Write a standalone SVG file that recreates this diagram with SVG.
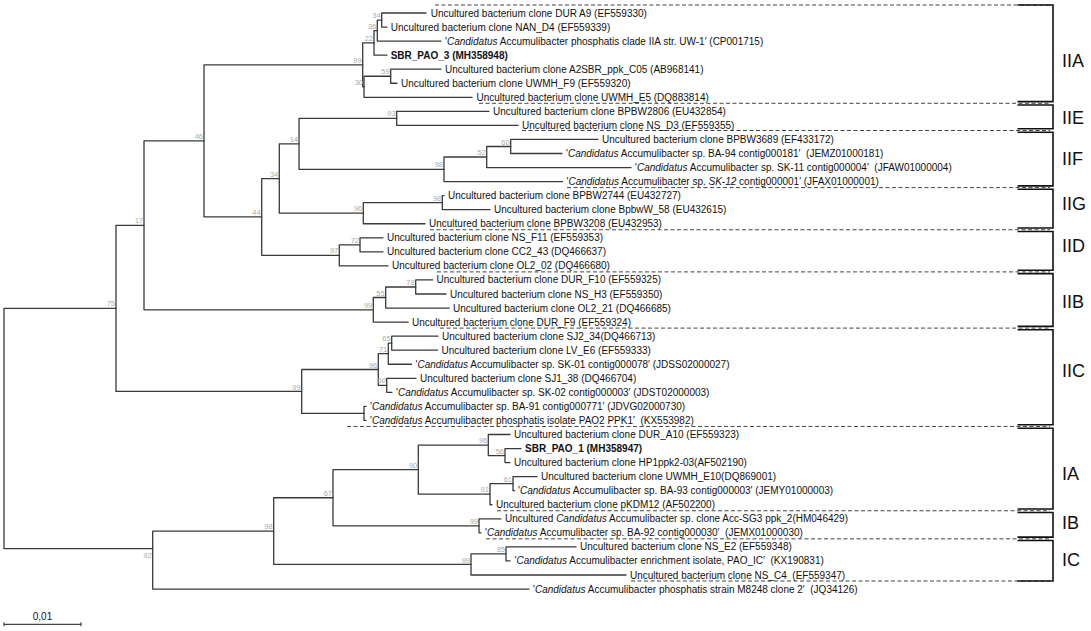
<svg xmlns="http://www.w3.org/2000/svg" width="1091" height="631" viewBox="0 0 1091 631">
<style>
.br{fill:none;stroke:#3a3a3a;stroke-width:1.3;stroke-linejoin:round;stroke-linecap:round}
.lf{font-family:"Liberation Sans",Arial,sans-serif;font-size:10px;fill:#111;white-space:pre}
.b{font-weight:bold}
.i{font-style:italic}
.bs{font-family:"Liberation Sans",Arial,sans-serif;font-size:7.5px;fill:#aaa;text-anchor:end}
.ds{fill:none;stroke:#444;stroke-width:1;stroke-dasharray:4 2.5}
.bk{fill:none;stroke:#111;stroke-width:1.6}
.cl{font-family:"Liberation Sans",Arial,sans-serif;font-size:18px;fill:#111}
.sc{fill:none;stroke:#444;stroke-width:1.2}
</style>
<rect width="1091" height="631" fill="#fff"/>
<g id="branches">
<path class="br" d="M426 13H381.7V27.05H387"/>
<path class="br" d="M381.7 20.03H377.3V41.1H441"/>
<path class="br" d="M377.3 30.56H374V55.15H387"/>
<path class="br" d="M441 69.2H390.7V83.25H397"/>
<path class="br" d="M390.7 76.23H364V97.3H472"/>
<path class="br" d="M374 42.86H362.7V86.76H364"/>
<path class="br" d="M362.7 64.81H204V216.94H261.7"/>
<path class="br" d="M489 111.35H396.7V125.4H518"/>
<path class="br" d="M598 139.45H510.7V153.5H562"/>
<path class="br" d="M510.7 146.48H486.7V167.55H631"/>
<path class="br" d="M486.7 157.01H444V181.6H562.5"/>
<path class="br" d="M396.7 118.38H299V169.31H444"/>
<path class="br" d="M444 195.65H442.3V209.7H490"/>
<path class="br" d="M442.3 202.68H363.3V223.75H425"/>
<path class="br" d="M299 143.84H279.3V213.21H363.3"/>
<path class="br" d="M383 237.8H360V251.85H383"/>
<path class="br" d="M360 244.83H339.3V265.9H388"/>
<path class="br" d="M279.3 178.53H261.7V255.36H339.3"/>
<path class="br" d="M204 140.88H144V309.81H373.3"/>
<path class="br" d="M432.7 279.95H415.7V294H446"/>
<path class="br" d="M415.7 286.98H385.7V308.05H449.3"/>
<path class="br" d="M385.7 297.51H373.3V322.1H408.3"/>
<path class="br" d="M438 336.15H391.7V350.2H437.5"/>
<path class="br" d="M391.7 343.18H388.3V364.25H411.5"/>
<path class="br" d="M416 378.3H386.7V392.35H392"/>
<path class="br" d="M388.3 353.71H378.3V385.33H386.7"/>
<path class="br" d="M366 406.4H364V420.45H366"/>
<path class="br" d="M378.3 369.52H301.7V413.43H364"/>
<path class="br" d="M144 225.34H116V391.47H301.7"/>
<path class="br" d="M521 448.55H505V462.6H510"/>
<path class="br" d="M510 434.5H488.3V455.58H505"/>
<path class="br" d="M537 476.65H513V490.7H514.5"/>
<path class="br" d="M513 483.68H490V504.75H492"/>
<path class="br" d="M488.3 445.04H418.3V494.21H490"/>
<path class="br" d="M501 518.8H479V532.85H481"/>
<path class="br" d="M418.3 469.63H333V525.83H479"/>
<path class="br" d="M576 546.9H506V560.95H510"/>
<path class="br" d="M506 553.93H471V575H626"/>
<path class="br" d="M333 497.73H273.7V564.46H471"/>
<path class="br" d="M273.7 531.1H152.7V589.05H529"/>
<path class="br" d="M116 308.41H4V548.7H152.7"/>
</g>
<g id="bootstrap">
<text class="bs" x="380.7" y="18">34</text>
<text class="bs" x="376.3" y="28.6">36</text>
<text class="bs" x="373" y="40.9">22</text>
<text class="bs" x="361.7" y="62.8">99</text>
<text class="bs" x="389.7" y="74.2">59</text>
<text class="bs" x="363" y="84.8">30</text>
<text class="bs" x="395.7" y="116.4">93</text>
<text class="bs" x="509.7" y="144.5">60</text>
<text class="bs" x="485.7" y="155">52</text>
<text class="bs" x="443" y="167.3">98</text>
<text class="bs" x="298" y="141.8">14</text>
<text class="bs" x="441.3" y="200.7">98</text>
<text class="bs" x="362.3" y="211.2">96</text>
<text class="bs" x="278.3" y="176.5">34</text>
<text class="bs" x="359" y="242.8">72</text>
<text class="bs" x="338.3" y="253.4">97</text>
<text class="bs" x="260.7" y="214.9">44</text>
<text class="bs" x="203" y="138.9">46</text>
<text class="bs" x="414.7" y="285">78</text>
<text class="bs" x="384.7" y="295.5">55</text>
<text class="bs" x="372.3" y="307.8">99</text>
<text class="bs" x="143" y="223.3">17</text>
<text class="bs" x="390.7" y="341.2">65</text>
<text class="bs" x="387.3" y="351.7">71</text>
<text class="bs" x="385.7" y="383.3">60</text>
<text class="bs" x="377.3" y="367.5">96</text>
<text class="bs" x="300.7" y="389.5">99</text>
<text class="bs" x="115" y="306.4">75</text>
<text class="bs" x="504" y="453.6">56</text>
<text class="bs" x="487.3" y="443">96</text>
<text class="bs" x="512" y="481.7">61</text>
<text class="bs" x="489" y="492.2">91</text>
<text class="bs" x="417.3" y="467.6">90</text>
<text class="bs" x="478" y="523.8">99</text>
<text class="bs" x="332" y="495.7">67</text>
<text class="bs" x="505" y="551.9">85</text>
<text class="bs" x="470" y="562.5">99</text>
<text class="bs" x="272.7" y="529.1">98</text>
<text class="bs" x="151.7" y="558">92</text>
</g>
<g id="separators">
<path class="ds" d="M435 5H1050"/>
<path class="ds" d="M479 103.3H1050"/>
<path class="ds" d="M522 130.5H1050"/>
<path class="ds" d="M567 187.6H1050"/>
<path class="ds" d="M430 229.75H1050"/>
<path class="ds" d="M437 271.9H1050"/>
<path class="ds" d="M440 328.1H1050"/>
<path class="ds" d="M347 426.45H1050"/>
<path class="ds" d="M497 510.75H1050"/>
<path class="ds" d="M486 538.85H1050"/>
<path class="ds" d="M631 581H1050"/>
</g>
<g id="leaves">
<g id="leaf0"><text class="lf" x="430.7" y="16.5">Uncultured bacterium clone DUR A9 (EF559330)</text></g>
<g id="leaf1"><text class="lf" x="390.7" y="30.55">Uncultured bacterium clone NAN_D4 (EF559339)</text></g>
<g id="leaf2"><text class="lf" x="445" y="44.6">'<tspan class="i">Candidatus</tspan> Accumulibacter phosphatis clade IIA str. UW-1′ (CP001715)</text></g>
<g id="leaf3"><text class="lf b" x="390.7" y="58.65">SBR_PAO_3 (MH358948)</text></g>
<g id="leaf4"><text class="lf" x="445" y="72.7">Uncultured bacterium clone A2SBR_ppk_C05 (AB968141)</text></g>
<g id="leaf5"><text class="lf" x="401" y="86.75">Uncultured bacterium clone UWMH_F9 (EF559320)</text></g>
<g id="leaf6"><text class="lf" x="476.5" y="100.8">Uncultured bacterium clone UWMH_E5 (DQ883814)</text></g>
<g id="leaf7"><text class="lf" x="493" y="114.85">Uncultured bacterium clone BPBW2806 (EU432854)</text></g>
<g id="leaf8"><text class="lf" x="522" y="128.9">Uncultured bacterium clone NS_D3 (EF559355)</text></g>
<g id="leaf9"><text class="lf" x="602" y="142.95">Uncultured bacterium clone BPBW3689 (EF433172)</text></g>
<g id="leaf10"><text class="lf" x="566" y="157">'<tspan class="i">Candidatus</tspan> Accumulibacter sp. BA-94 contig000181′  (JEMZ01000181)</text></g>
<g id="leaf11"><text class="lf" x="635" y="171.05">'<tspan class="i">Candidatus</tspan> Accumulibacter sp. SK-11 contig000004′  (JFAW01000004)</text></g>
<g id="leaf12"><text class="lf" x="566.5" y="185.1">'<tspan class="i">Candidatus</tspan> Accumulibacter sp. <tspan class="i">SK-12</tspan> contig000001′ (JFAX01000001)</text></g>
<g id="leaf13"><text class="lf" x="448" y="199.15">Uncultured bacterium clone BPBW2744 (EU432727)</text></g>
<g id="leaf14"><text class="lf" x="494" y="213.2">Uncultured bacterium clone BpbwW_58 (EU432615)</text></g>
<g id="leaf15"><text class="lf" x="429" y="227.25">Uncultured bacterium clone BPBW3208 (EU432953)</text></g>
<g id="leaf16"><text class="lf" x="387" y="241.3">Uncultured bacterium clone NS_F11 (EF559353)</text></g>
<g id="leaf17"><text class="lf" x="387" y="255.35">Uncultured bacterium clone CC2_43 (DQ466637)</text></g>
<g id="leaf18"><text class="lf" x="392" y="269.4">Uncultured bacterium clone OL2_02 (DQ466680)</text></g>
<g id="leaf19"><text class="lf" x="436.5" y="283.45">Uncultured bacterium clone DUR_F10 (EF559325)</text></g>
<g id="leaf20"><text class="lf" x="450" y="297.5">Uncultured bacterium clone NS_H3 (EF559350)</text></g>
<g id="leaf21"><text class="lf" x="453" y="311.55">Uncultured bacterium clone OL2_21 (DQ466685)</text></g>
<g id="leaf22"><text class="lf" x="412" y="325.6">Uncultured bacterium clone DUR_F9 (EF559324)</text></g>
<g id="leaf23"><text class="lf" x="442" y="339.65">Uncultured bacterium clone SJ2_34(DQ466713)</text></g>
<g id="leaf24"><text class="lf" x="441.5" y="353.7">Uncultured bacterium clone LV_E6 (EF559333)</text></g>
<g id="leaf25"><text class="lf" x="415.5" y="367.75">'<tspan class="i">Candidatus</tspan> Accumulibacter sp. SK-01 contig000078′ (JDSS02000027)</text></g>
<g id="leaf26"><text class="lf" x="420" y="381.8">Uncultured bacterium clone SJ1_38 (DQ466704)</text></g>
<g id="leaf27"><text class="lf" x="396" y="395.85">'<tspan class="i">Candidatus</tspan> Accumulibacter sp. SK-02 contig000003′ (JDST02000003)</text></g>
<g id="leaf28"><text class="lf" x="370" y="409.9">'<tspan class="i">Candidatus</tspan> Accumulibacter sp. BA-91 contig000771′ (JDVG02000730)</text></g>
<g id="leaf29"><text class="lf" x="370" y="423.95">'<tspan class="i">Candidatus</tspan> Accumulibacter phosphatis isolate PAO2 PPK1′  (KX553982)</text></g>
<g id="leaf30"><text class="lf" x="514" y="438">Uncultured bacterium clone DUR_A10 (EF559323)</text></g>
<g id="leaf31"><text class="lf b" x="525" y="452.05">SBR_PAO_1 (MH358947)</text></g>
<g id="leaf32"><text class="lf" x="514" y="466.1">Uncultured bacterium clone HP1ppk2-03(AF502190)</text></g>
<g id="leaf33"><text class="lf" x="541" y="480.15">Uncultured bacterium clone UWMH_E10(DQ869001)</text></g>
<g id="leaf34"><text class="lf" x="518" y="494.2">'<tspan class="i">Candidatus</tspan> Accumulibacter sp. BA-93 contig000003′ (JEMY01000003)</text></g>
<g id="leaf35"><text class="lf" x="496" y="508.25">Uncultured bacterium clone pKDM12 (AF502200)</text></g>
<g id="leaf36"><text class="lf" x="505" y="522.3">Uncultured <tspan class="i">Candidatus</tspan> Accumulibacter sp. clone Acc-SG3 ppk_2(HM046429)</text></g>
<g id="leaf37"><text class="lf" x="485" y="536.35">'<tspan class="i">Candidatus</tspan> Accumulibacter sp. BA-92 contig000030′  (JEMX01000030)</text></g>
<g id="leaf38"><text class="lf" x="580" y="550.4">Uncultured bacterium clone NS_E2 (EF559348)</text></g>
<g id="leaf39"><text class="lf" x="514.5" y="564.45">'<tspan class="i">Candidatus</tspan> Accumulibacter enrichment isolate, PAO_IC′  (KX190831)</text></g>
<g id="leaf40"><text class="lf" x="630" y="578.5">Uncultured bacterium clone NS_C4  (EF559347)</text></g>
<g id="leaf41"><text class="lf" x="533" y="592.55">'<tspan class="i">Candidatus</tspan> Accumulibacter phosphatis strain M8248 clone 2′  (JQ34126)</text></g>
</g>
<g id="clades">
<g id="clade-IIA"><path class="bk" d="M1017.5 5H1053V101.6H1017.5"/><text class="cl" x="1062" y="67">IIA</text></g>
<g id="clade-IIE"><path class="bk" d="M1017.5 105H1053V128.8H1017.5"/><text class="cl" x="1062" y="123.5">IIE</text></g>
<g id="clade-IIF"><path class="bk" d="M1017.5 132.2H1053V185.9H1017.5"/><text class="cl" x="1062" y="165">IIF</text></g>
<g id="clade-IIG"><path class="bk" d="M1017.5 189.3H1053V228H1017.5"/><text class="cl" x="1062" y="210">IIG</text></g>
<g id="clade-IID"><path class="bk" d="M1017.5 231.5H1053V270.2H1017.5"/><text class="cl" x="1062" y="251.5">IID</text></g>
<g id="clade-IIB"><path class="bk" d="M1017.5 273.6H1053V326.4H1017.5"/><text class="cl" x="1062" y="308">IIB</text></g>
<g id="clade-IIC"><path class="bk" d="M1017.5 329.8H1053V424.7H1017.5"/><text class="cl" x="1062" y="376.5">IIC</text></g>
<g id="clade-IA"><path class="bk" d="M1017.5 428.2H1053V509H1017.5"/><text class="cl" x="1062" y="480">IA</text></g>
<g id="clade-IB"><path class="bk" d="M1017.5 512.5H1053V537.1H1017.5"/><text class="cl" x="1062" y="529">IB</text></g>
<g id="clade-IC"><path class="bk" d="M1017.5 540.5H1053V581H1017.5"/><text class="cl" x="1062" y="566">IC</text></g>
</g>
<g id="scale-bar">
<path class="sc" d="M4 624.3H81M4 622.3V626.3M81 622.3V626.3"/>
<text class="lf" x="42.5" y="620" text-anchor="middle">0,01</text>
</g>
</svg>
